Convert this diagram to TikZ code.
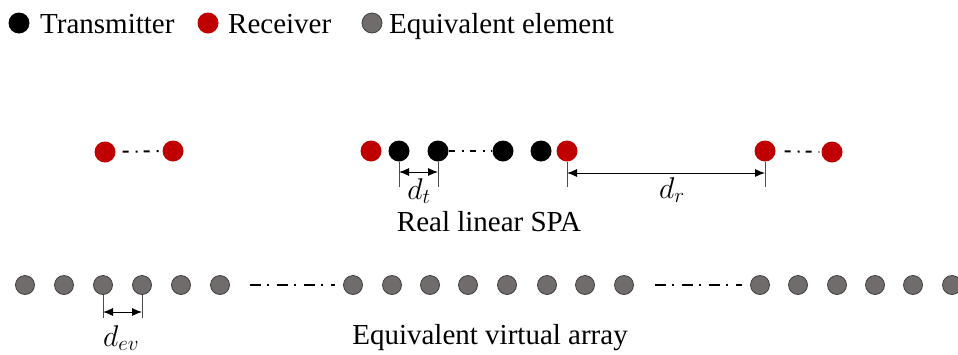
\RequirePackage{fix-cm}
\documentclass[tikz,border=0pt]{standalone}
\usepackage{fontspec}
\setmainfont{Liberation Serif}
\usetikzlibrary{arrows.meta,positioning}
\definecolor{RxRed}{RGB}{192, 0, 0}
\definecolor{EvGray}{RGB}{112, 108, 108}
\definecolor{EvEdge}{RGB}{64, 64, 64}

\tikzset{
  txdot/.style={circle, fill=black, inner sep=0pt, minimum size=21pt},
  rxdot/.style={circle, fill=RxRed, inner sep=0pt, minimum size=21pt},
  evdot/.style={circle, fill=EvGray, draw=EvEdge, line width=0.8pt, inner sep=0pt, minimum size=19pt},
  gapline/.style={line width=2pt, dash pattern=on 6pt off 7pt on 2pt off 6pt, shorten <=7pt, shorten >=2pt},
  virtline/.style={line width=2pt, dash pattern=on 11pt off 6pt on 2pt off 8pt},
  extline/.style={line width=0.6pt, black!70},
  dimarrow/.style={line width=0.9pt, {Latex[length=10pt,width=8pt]}-{Latex[length=10pt,width=8pt]}},
  lbl/.style={font=\fontsize{29}{33}\selectfont, inner sep=0pt, anchor=base},
  mlbl/.style={font=\fontsize{30}{34}\selectfont, inner sep=0pt, anchor=base}
}

\begin{document}
\begin{tikzpicture}[x=1pt, y=-1pt]
    \useasboundingbox (0,0) rectangle (958,354);

    % Legend
    \node[txdot] (legtx) at (19,23) {};
    \node[lbl, anchor=base west] (legtxt) at (40,33) {Transmitter};
    \node[rxdot] (legrx) at (208,23) {};
    \node[lbl, anchor=base west] (legrxt) at (228,33) {Receiver};
    \node[evdot, minimum size=20pt] (legev) at (372,23) {};
    \node[lbl, anchor=base west] (legevt) at (389,33) {Equivalent element};

    % Real linear SPA
    \node[rxdot] (ra) at (105,152) {};
    \node[rxdot] (rb) at (173,151) {};
    \node[rxdot] (rc) at (371,151) {};
    \node[txdot] (ta) at (399,151) {};
    \node[txdot] (tb) at (438,151) {};
    \node[txdot] (tc) at (503,151) {};
    \node[txdot] (td) at (541,151) {};
    \node[rxdot] (rd) at (567,151) {};
    \node[rxdot] (re) at (765,151) {};
    \node[rxdot] (rf) at (832,152) {};

    \draw[gapline] (ra) -- (rb);
    \draw[gapline, shorten <=0pt, shorten >=0pt] (tb) -- (tc);
    \draw[gapline, shorten <=9pt] (re) -- (rf);

    % Spacing d_t
    \draw[extline] (ta.south) -- (ta |- 0,187);
    \draw[extline] (tb.south) -- (tb |- 0,187);
    \draw[dimarrow] (ta |- 0,172) -- (tb |- 0,172);
    \node[mlbl] (dtlab) at (419,199) {$d_t$};

    % Spacing d_r
    \draw[extline] (rd.south) -- (rd |- 0,187);
    \draw[extline] (re.south) -- (re |- 0,187);
    \draw[dimarrow] (rd |- 0,173) -- (re |- 0,173);
    \node[mlbl] (drlab) at (672,198) {$d_r$};

    \node[lbl] (spalab) at (489,231) {Real linear SPA};

    % Equivalent virtual array
    \foreach \i/\x in {1/25, 2/64, 3/103, 4/142, 5/181, 6/220}
      \node[evdot] (va\i) at (\x,285) {};
    \foreach \i/\x in {1/353, 2/392, 3/430, 4/468, 5/507, 6/547, 7/585, 8/624}
      \node[evdot] (vb\i) at (\x,285) {};
    \foreach \i/\x in {1/760, 2/798, 3/837, 4/875, 5/913, 6/952}
      \node[evdot] (vc\i) at (\x,285) {};

    \draw[virtline, shorten <=20pt, shorten >=8pt] (va6) -- (vb1);
    \draw[virtline, shorten <=21pt, shorten >=8pt] (vb8) -- (vc1);

    % Spacing d_ev
    \draw[extline] (va3.south) -- (va3 |- 0,318);
    \draw[extline] (va4.south) -- (va4 |- 0,318);
    \draw[dimarrow] (va3 |- 0,312) -- (va4 |- 0,312);
    \node[mlbl] (devlab) at (121,346) {$d_{ev}$};

    \node[lbl] (varlab) at (490,344) {Equivalent virtual array};
\end{tikzpicture}
\end{document}
